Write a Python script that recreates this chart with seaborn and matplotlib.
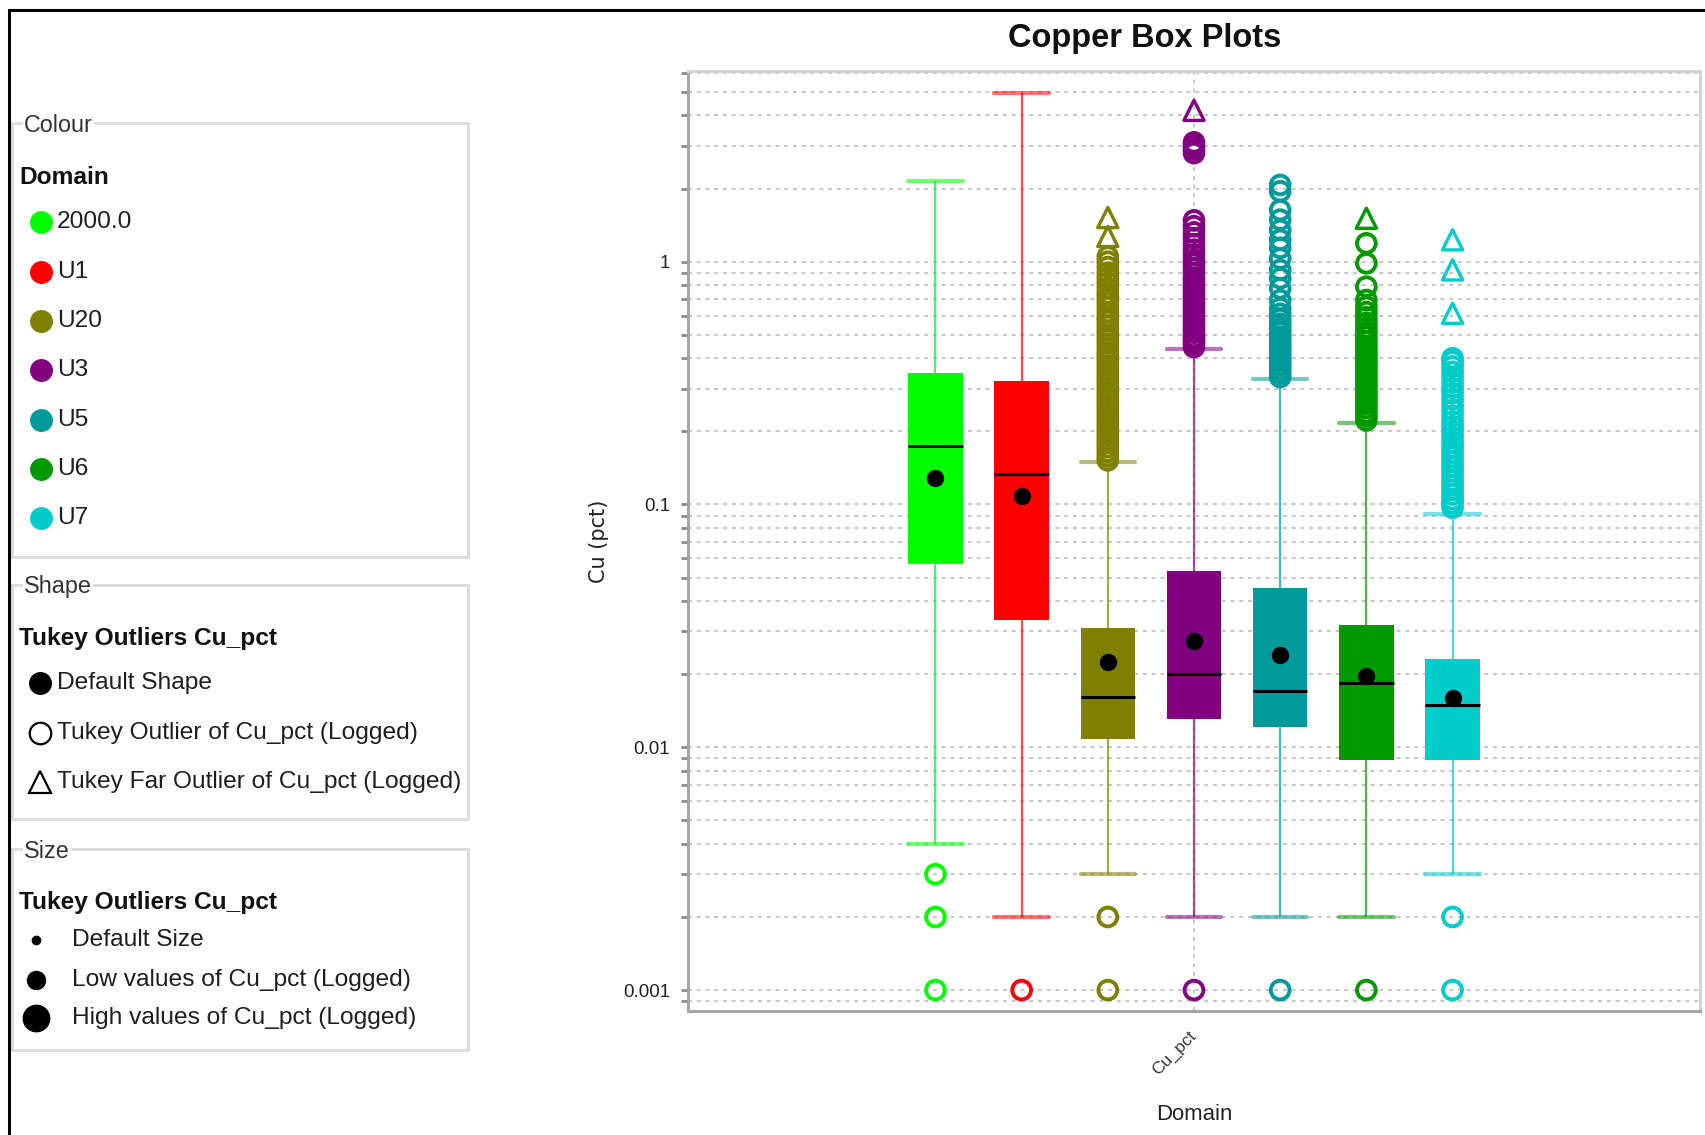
import numpy as np
import pandas as pd
import matplotlib
matplotlib.use("Agg")
import matplotlib.pyplot as plt
from matplotlib import font_manager
from matplotlib.lines import Line2D
from matplotlib.patches import Rectangle
import seaborn as sns

# ---------------------------------------------------------------- data
domains = ["2000.0", "U1", "U20", "U3", "U5", "U6", "U7"]
domain_colors = ["#00ff00", "#ff0000", "#808000", "#800080", "#009a9a", "#009a00", "#00cccc"]

# five-number summaries of Cu (pct) per domain
whisker_low = [0.004, 0.002, 0.003, 0.002, 0.002, 0.002, 0.003]
quartile_1 = [0.057, 0.0335, 0.0108, 0.0131, 0.0121, 0.0089, 0.0089]
median = [0.174, 0.134, 0.0161, 0.020, 0.017, 0.0184, 0.015]
quartile_3 = [0.348, 0.322, 0.0311, 0.0532, 0.0451, 0.0318, 0.0231]
whisker_high = [2.15, 4.95, 0.149, 0.435, 0.328, 0.216, 0.0915]
mean = [0.129, 0.108, 0.0224, 0.0275, 0.0241, 0.0196, 0.0160]

# Tukey outliers (circles)
outliers_2000 = [0.003, 0.002, 0.001]
outliers_u1 = [0.001]
outliers_u20 = [0.002, 0.001,
                0.152, 0.158, 0.165, 0.172, 0.179, 0.186, 0.194, 0.202, 0.21, 0.219,
                0.228, 0.238, 0.248, 0.258, 0.269, 0.28, 0.292, 0.304, 0.317, 0.33,
                0.344, 0.358, 0.373, 0.39, 0.405, 0.42, 0.44, 0.46, 0.48, 0.5, 0.52,
                0.545, 0.57, 0.59, 0.62, 0.65, 0.68, 0.71, 0.74, 0.78, 0.82, 0.86,
                0.9, 0.95, 1.0, 1.05]
outliers_u3 = [0.001,
               0.445, 0.46, 0.475, 0.49, 0.51, 0.53, 0.55, 0.57, 0.59, 0.61, 0.635,
               0.66, 0.685, 0.71, 0.74, 0.77, 0.8, 0.83, 0.86, 0.9, 0.94, 0.98, 1.02,
               1.07, 1.12, 1.18, 1.25, 1.32, 1.4, 1.48,
               2.8, 2.9, 3.0, 3.1]
outliers_u5 = [0.001,
               0.335, 0.348, 0.362, 0.376, 0.39, 0.405, 0.42, 0.437, 0.455, 0.473,
               0.49, 0.51, 0.53, 0.555, 0.58, 0.61,
               0.643, 0.695, 0.777, 0.854, 0.925, 1.03, 1.14, 1.23, 1.35, 1.49,
               1.63, 1.95, 2.07]
outliers_u6 = [0.001,
               0.222, 0.231, 0.24, 0.25, 0.26, 0.27, 0.281, 0.292, 0.304, 0.316,
               0.329, 0.342, 0.356, 0.37, 0.385, 0.4, 0.416, 0.433, 0.45, 0.47,
               0.49, 0.51, 0.535, 0.56, 0.59, 0.62,
               0.652, 0.695, 0.789, 0.985, 1.19]
outliers_u7 = [0.002, 0.001,
               0.097, 0.101, 0.105, 0.11, 0.115, 0.12, 0.125, 0.131, 0.137, 0.143,
               0.15, 0.157, 0.164, 0.172, 0.18, 0.19, 0.2, 0.21, 0.22, 0.232, 0.245,
               0.258, 0.272, 0.287, 0.302, 0.318, 0.335, 0.352, 0.37, 0.388, 0.4]

# Tukey far outliers (triangles)
far_2000 = []
far_u1 = []
far_u20 = [1.27, 1.52]
far_u3 = [4.2]
far_u5 = []
far_u6 = [1.51]
far_u7 = [0.613, 0.925, 1.23]

variable_label = "Cu_pct"
ytick_values = [0.001, 0.01, 0.1, 1]
ytick_labels = ["0.001", "0.01", "0.1", "1"]

# ---------------------------------------------------------------- tables
palette = dict(zip(domains, domain_colors))

box_df = pd.DataFrame({
    "Variable": variable_label,
    "Domain": np.repeat(domains, 5),
    "Cu": np.column_stack([whisker_low, quartile_1, median, quartile_3, whisker_high]).ravel(),
})
mean_df = pd.DataFrame({"Variable": variable_label, "Domain": domains, "Cu": mean})


def long_table(groups):
    rows = [(d, v) for d, vals in zip(domains, groups) for v in vals]
    return pd.DataFrame({"Variable": variable_label,
                         "Domain": [r[0] for r in rows],
                         "Cu": [r[1] for r in rows]})


circle_df = long_table([outliers_2000, outliers_u1, outliers_u20, outliers_u3,
                        outliers_u5, outliers_u6, outliers_u7])
far_df = long_table([far_2000, far_u1, far_u20, far_u3, far_u5, far_u6, far_u7])

# ---------------------------------------------------------------- fonts
sns.set_theme(style="white")


def has_font(name):
    try:
        font_manager.findfont(font_manager.FontProperties(family=name),
                              fallback_to_default=False)
        return True
    except ValueError:
        return False


if has_font("Liberation Sans Narrow"):
    NARROW, NSCALE = "Liberation Sans Narrow", 1.0
else:
    NARROW, NSCALE = "Liberation Sans", 0.84
plt.rcParams["font.family"] = ["Liberation Sans", "DejaVu Sans"]

W, H = 1705, 1135
fig = plt.figure(figsize=(W / 100, H / 100), dpi=100)
fig.patch.set_facecolor("white")

# ---------------------------------------------------------------- box plot
ax_l, ax_r, ax_t, ax_b = 688, 1700, 71, 1011
ax = fig.add_axes([ax_l / W, 1 - ax_b / H, (ax_r - ax_l) / W, (ax_b - ax_t) / H])
ax.set_yscale("log")

group_width = 0.8
gap = 0.37
box_w = group_width / len(domains) * (1 - gap)

for dom in domains:
    sub = box_df[box_df["Domain"] == dom]
    sns.boxplot(data=sub, x="Variable", y="Cu", hue="Domain", hue_order=domains,
                palette=palette, saturation=1, width=group_width, gap=gap, dodge=True,
                whis=(0, 100), showfliers=False, linecolor=palette[dom],
                linewidth=1.6, legend=False, ax=ax,
                boxprops=dict(linewidth=0),
                medianprops=dict(color="black", linewidth=2.2),
                whiskerprops=dict(alpha=0.7, linewidth=1.6),
                capprops=dict(alpha=0.55, linewidth=3.0),
                capwidths=box_w)


def hollow(start):
    for coll in ax.collections[start:]:
        fc = coll.get_facecolors()
        if len(fc):
            coll.set_edgecolors(fc)
            coll.set_facecolors("none")
        coll.set_zorder(4)


n0 = len(ax.collections)
sns.stripplot(data=circle_df, x="Variable", y="Cu", hue="Domain", hue_order=domains,
              palette=palette, dodge=True, jitter=False, marker="o", size=13.5,
              linewidth=2.8, legend=False, ax=ax)
hollow(n0)

n0 = len(ax.collections)
sns.stripplot(data=far_df, x="Variable", y="Cu", hue="Domain", hue_order=domains,
              palette=palette, dodge=True, jitter=False, marker="^", size=14.5,
              linewidth=2.4, legend=False, ax=ax)
hollow(n0)

n0 = len(ax.collections)
sns.stripplot(data=mean_df, x="Variable", y="Cu", hue="Domain", hue_order=domains,
              palette={d: "black" for d in domains}, dodge=True, jitter=False,
              marker="o", size=12.5, linewidth=0, legend=False, ax=ax)
for coll in ax.collections[n0:]:
    coll.set_zorder(5)

# axes styling
ax.set_ylim(0.00082, 6.1)
ax.set_xlim(-0.671, 0.671)
ax.set_yticks(ytick_values)
ax.set_yticklabels(ytick_labels)
ax.yaxis.set_minor_locator(matplotlib.ticker.LogLocator(base=10, subs=np.arange(2, 10)))
ax.yaxis.set_minor_formatter(matplotlib.ticker.NullFormatter())
grid_kw = dict(color="#c6c6c6", linestyle=(0, (2, 2.5)), linewidth=1.4)
ax.yaxis.grid(True, which="both", **grid_kw)
ax.xaxis.grid(True, which="major", **grid_kw)
ax.set_axisbelow(True)
ax.tick_params(axis="y", which="both", direction="out", length=5, width=2,
               color="#8a8a8a", labelsize=13.5, labelcolor="#222222", pad=8, left=True)
ax.tick_params(axis="x", length=0, labelsize=12.5, labelcolor="#333333", pad=16)
for lab in ax.get_xticklabels():
    lab.set_rotation(45)
    lab.set_ha("right")
    lab.set_va("center")
    lab.set_rotation_mode("anchor")
for side in ["left", "bottom"]:
    ax.spines[side].set_color("#a6a6a6")
    ax.spines[side].set_linewidth(2.2)
for side in ["top", "right"]:
    ax.spines[side].set_color("#d4d4d4")
    ax.spines[side].set_linewidth(2.2)

ax.set_ylabel("Cu (pct)", fontsize=15, color="#222222", family="DejaVu Sans")
ax.yaxis.set_label_coords(-0.078, 0.5)
ax.set_xlabel("Domain", fontsize=19 * NSCALE, color="#222222", family=NARROW, va="center")
ax.xaxis.set_label_coords(0.5, -0.1106)

fig.text(1145 / W, 1 - 38 / H, "Copper Box Plots", ha="center", va="center",
         fontsize=28 * NSCALE, fontweight="bold", family=NARROW, color="#111111")

# ---------------------------------------------------------------- legend panel
lax = fig.add_axes([0, 0, 1, 1], zorder=-1)
lax.set_xlim(0, W)
lax.set_ylim(H, 0)
lax.axis("off")

# outer frame lines
lax.add_line(Line2D([9, W], [10, 10], color="black", linewidth=2.2))
lax.add_line(Line2D([9, 9], [10, H], color="black", linewidth=2.2))

item_kw = dict(fontsize=21 * NSCALE, family=NARROW, color="#1e1e1e", va="center", ha="left")
head_kw = dict(fontsize=21 * NSCALE, family=NARROW, color="#111111", va="center",
               ha="left", fontweight="bold")
group_kw = dict(fontsize=20 * NSCALE, family=NARROW, color="#333333", va="center",
                ha="left", bbox=dict(facecolor="white", edgecolor="none", pad=1))


def group_box(top, bottom, title):
    lax.add_patch(Rectangle((12, top), 456, bottom - top, facecolor="none",
                            edgecolor="#dcdcdc", linewidth=2.2))
    lax.text(24, top + 2, title, **group_kw)


group_box(123, 557, "Colour")
lax.text(19, 178, "Domain", **head_kw)
colour_rows = [222, 272, 321, 370, 420, 469, 518]
for y, dom, col in zip(colour_rows, domains, domain_colors):
    lax.plot([41], [y], marker="o", ms=15.5, color=col, mec=col)
    lax.text(57, y, dom, **item_kw)

group_box(585, 819, "Shape")
lax.text(19, 638, "Tukey Outliers Cu_pct", **head_kw)
shape_rows = [683, 733, 782]
shape_labels = ["Default Shape", "Tukey Outlier of Cu_pct (Logged)",
                "Tukey Far Outlier of Cu_pct (Logged)"]
shape_markers = [dict(marker="o", ms=15.5, color="black"),
                 dict(marker="o", ms=15.5, mfc="none", mec="black", mew=1.6),
                 dict(marker="^", ms=16, mfc="none", mec="black", mew=1.6)]
for y, lab, mk in zip(shape_rows, shape_labels, shape_markers):
    lax.plot([40], [y], linestyle="none", **mk)
    lax.text(57, y, lab, **item_kw)

group_box(849, 1050, "Size")
lax.text(19, 902, "Tukey Outliers Cu_pct", **head_kw)
size_rows = [940, 980, 1018]
size_labels = ["Default Size", "Low values of Cu_pct (Logged)",
               "High values of Cu_pct (Logged)"]
size_ms = [6, 13, 19]
for y, lab, ms in zip(size_rows, size_labels, size_ms):
    lax.plot([36], [y], marker="o", ms=ms, color="black")
    lax.text(72, y, lab, **item_kw)

fig.savefig("out.png", dpi=100, facecolor="white")
